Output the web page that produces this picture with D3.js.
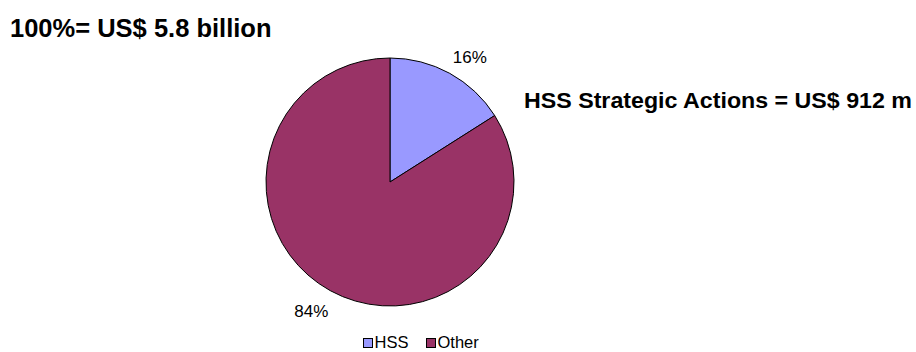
<!DOCTYPE html>
<html>
<head>
<meta charset="utf-8">
<script src="https://cdn.jsdelivr.net/npm/d3@7"></script>
<style>
  html, body { margin: 0; padding: 0; background: #fff; }
  svg { display: block; font-family: "Liberation Sans", Arial, Helvetica, sans-serif; }
</style>
</head>
<body>
<svg id="chart" width="916" height="352"></svg>
<script>
// Share of total funding by component
const categories = ["HSS", "Other"];
const shares = [16, 84];
const colors = ["#9999FF", "#993366"];
const totalLabel = "100%= US$ 5.8 billion";
const calloutLabel = "HSS Strategic Actions = US$ 912 m";

const svg = d3.select("#chart");
const cx = 390, cy = 182, R = 124;

svg.append("text")
  .attr("x", 10).attr("y", 37)
  .attr("font-size", 25.5).attr("font-weight", "bold")
  .attr("fill", "#000")
  .text(totalLabel);

svg.append("text")
  .attr("x", 524).attr("y", 107.5)
  .attr("font-size", 22).attr("font-weight", "bold")
  .attr("textLength", 388).attr("lengthAdjust", "spacingAndGlyphs")
  .attr("fill", "#000")
  .text(calloutLabel);

const pie = d3.pie().sort(null).value(d => d)(shares);
const arc = d3.arc().innerRadius(0).outerRadius(R);

const g = svg.append("g").attr("transform", `translate(${cx},${cy})`);

g.selectAll("path.slice")
  .data(pie)
  .join("path")
  .attr("class", "slice")
  .attr("d", arc)
  .attr("fill", (d, i) => colors[i])
  .attr("stroke", "#000")
  .attr("stroke-width", 1);

// Percentage labels sit just outside the rim at each slice's mid-angle
g.selectAll("text.pct")
  .data(pie)
  .join("text")
  .attr("class", "pct")
  .each(function(d) {
    const a = (d.startAngle + d.endAngle) / 2;
    const px = Math.sin(a) * R, py = -Math.cos(a) * R;
    const right = px >= 0, up = py < 0;
    d3.select(this)
      .attr("x", px + (right ? 3 : -2))
      .attr("y", up ? py - 10.5 : py + 26)
      .attr("text-anchor", right ? "start" : "end");
  })
  .attr("font-size", 17)
  .attr("fill", "#000")
  .text(d => d.data + "%");

// Legend
const legend = svg.append("g").attr("transform", "translate(363.5,338.5)");
const items = [
  { name: categories[0], color: colors[0], x: 0 },
  { name: categories[1], color: colors[1], x: 63 }
];
const li = legend.selectAll("g.item").data(items).join("g")
  .attr("class", "item")
  .attr("transform", d => `translate(${d.x},0)`);
li.append("rect")
  .attr("width", 9).attr("height", 9)
  .attr("fill", d => d.color)
  .attr("stroke", "#000").attr("stroke-width", 1);
li.append("text")
  .attr("x", 11).attr("y", 9.8)
  .attr("font-size", 16.5)
  .attr("fill", "#000")
  .text(d => d.name);
</script>
</body>
</html>
